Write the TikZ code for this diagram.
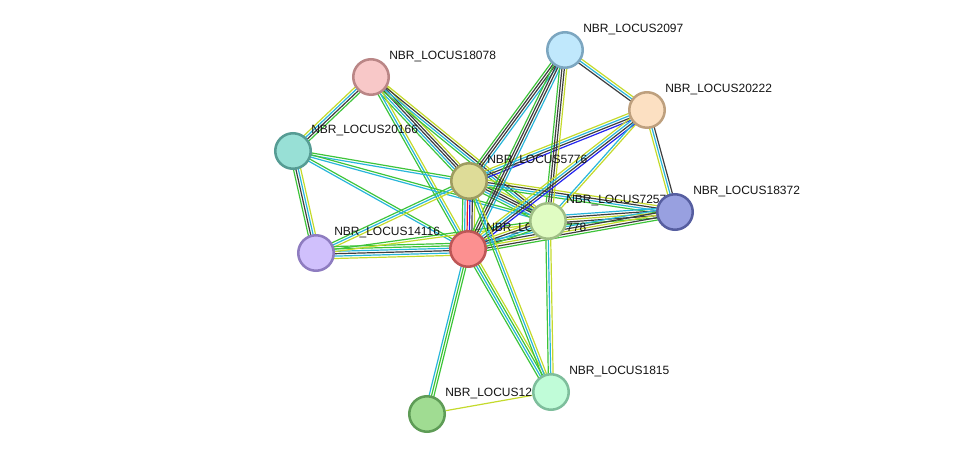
\documentclass[tikz,border=0pt]{standalone}
\usepackage{fontspec}
\setmainfont{Liberation Sans}
\usetikzlibrary{calc}
\pgfdeclarelayer{edgelayer}
\pgfdeclarelayer{labellayer}
\pgfsetlayers{edgelayer,labellayer,main}
\definecolor{sgr}{RGB}{62,196,58}
\definecolor{scy}{RGB}{40,182,218}
\definecolor{sbk}{RGB}{62,62,62}
\definecolor{syg}{RGB}{196,218,44}
\definecolor{sbl}{RGB}{36,36,238}
\definecolor{srd}{RGB}{236,30,30}
\newcommand\ebundle[4]{%
  \foreach \cc [count=\ii] in {#4} {%
    \pgfmathsetmacro\off{(\ii-(#3+1)/2)*1.8}%
    \draw[edge,draw=\cc] ($(#1)!\off pt!90:(#2)$) -- ($(#2)!\off pt!-90:(#1)$);
  }}
\begin{document}
\begin{tikzpicture}[x=0.75pt,y=-0.75pt,
  edge/.style={line width=0.9pt},
  prot/.style={circle, minimum size=26.6pt, inner sep=0pt, line width=1.9pt},
  lab/.style={anchor=base west, inner sep=0pt, text=black!92, font=\fontsize{9}{10}\selectfont}]
\useasboundingbox (0,0) rectangle (975,459);

% nodes
\node[prot, fill={rgb,255:red,248;green,200;blue,200}, draw={rgb,255:red,186;green,134;blue,134}] (p18078) at (371,77) {};
\node[prot, fill={rgb,255:red,192;green,232;blue,252}, draw={rgb,255:red,124;green,166;blue,192}] (p2097) at (565,50) {};
\node[prot, fill={rgb,255:red,252;green,224;blue,194}, draw={rgb,255:red,190;green,160;blue,126}] (p20222) at (647,110) {};
\node[prot, fill={rgb,255:red,152;green,224;blue,214}, draw={rgb,255:red,86;green,156;blue,148}] (p20166) at (293,151) {};
\node[prot, fill={rgb,255:red,222;green,220;blue,152}, draw={rgb,255:red,158;green,156;blue,96}] (p5776) at (469,181) {};
\node[prot, fill={rgb,255:red,152;green,160;blue,224}, draw={rgb,255:red,86;green,94;blue,160}] (p18372) at (675,212) {};
\node[prot, fill={rgb,255:red,208;green,192;blue,252}, draw={rgb,255:red,142;green,124;blue,192}] (p14116) at (316,253) {};
\node[prot, fill={rgb,255:red,252;green,144;blue,144}, draw={rgb,255:red,190;green,86;blue,86}] (p7778) at (468,249) {};
\node[prot, fill={rgb,255:red,224;green,252;blue,194}, draw={rgb,255:red,160;green,190;blue,134}] (p7257) at (548,221) {};
\node[prot, fill={rgb,255:red,192;green,252;blue,216}, draw={rgb,255:red,126;green,190;blue,156}] (p1815) at (551,392) {};
\node[prot, fill={rgb,255:red,160;green,220;blue,146}, draw={rgb,255:red,94;green,156;blue,86}] (p12) at (427,414) {};

% labels
\begin{pgfonlayer}{labellayer}
\node[lab] (l18078) at (389,60) {NBR\_LOCUS18078};
\node[lab] (l2097) at (583,33) {NBR\_LOCUS2097};
\node[lab] (l20222) at (665,93) {NBR\_LOCUS20222};
\node[lab] (l20166) at (311,134) {NBR\_LOCUS20166};
\node[lab] (l5776) at (487,164) {NBR\_LOCUS5776};
\node[lab] (l18372) at (693,195) {NBR\_LOCUS18372};
\node[lab] (l14116) at (334,236) {NBR\_LOCUS14116};
\node[lab] (l7778) at (486,232) {NBR\_LOCUS7778};
\node[lab] (l7257) at (566,204) {NBR\_LOCUS7257};
\node[lab] (l1815) at (569,375) {NBR\_LOCUS1815};
\node[lab] (l12) at (445,397) {NBR\_LOCUS12};
\end{pgfonlayer}

% edges
\begin{pgfonlayer}{edgelayer}
\ebundle{p18078}{p20166}{4}{syg,scy,sbk,sgr}
\ebundle{p18078}{p5776}{5}{sgr,scy,sbk,sbk,syg}
\ebundle{p18078}{p7778}{3}{sgr,scy,syg}
\ebundle{p18078}{p7257}{4}{sgr,scy,sbk,syg}
\ebundle{p20166}{p5776}{2}{scy,sgr}
\ebundle{p20166}{p7778}{2}{scy,sgr}
\ebundle{p20166}{p7257}{2}{scy,sgr}
\ebundle{p20166}{p14116}{4}{sgr,sbk,scy,syg}
\ebundle{p14116}{p5776}{3}{syg,scy,sgr}
\ebundle{p14116}{p7778}{6}{syg,scy,sbk,scy,sgr,sgr}
\ebundle{p14116}{p7257}{2}{syg,sgr}
\ebundle{p5776}{p7778}{6}{sgr,scy,srd,sbl,sbk,syg}
\ebundle{p5776}{p7257}{5}{sgr,scy,sbk,sbk,syg}
\ebundle{p5776}{p18372}{4}{sgr,scy,sbk,syg}
\ebundle{p5776}{p2097}{4}{scy,sbk,sbk,sgr}
\ebundle{p5776}{p20222}{4}{sbl,sbk,scy,syg}
\ebundle{p7778}{p2097}{4}{scy,sbk,sbk,sgr}
\ebundle{p7257}{p2097}{4}{syg,sbk,sbk,sgr}
\ebundle{p7778}{p20222}{4}{sbl,sbk,scy,syg}
\ebundle{p7257}{p20222}{2}{syg,scy}
\ebundle{p2097}{p20222}{3}{sbk,scy,syg}
\ebundle{p20222}{p18372}{3}{syg,scy,sbk}
\ebundle{p7257}{p18372}{5}{sgr,sbk,syg,sbk,scy}
\ebundle{p7778}{p18372}{5}{sgr,sbk,syg,sbk,scy}
\ebundle{p7778}{p7257}{4}{sgr,scy,sbk,syg}
\ebundle{p7778}{p1815}{4}{sgr,scy,sgr,syg}
\ebundle{p7778}{p12}{3}{scy,sgr,sgr}
\ebundle{p7257}{p1815}{3}{sgr,scy,syg}
\ebundle{p5776}{p1815}{3}{sgr,scy,syg}
\draw[edge,draw=syg] (p12) -- (p1815);
\end{pgfonlayer}
\end{tikzpicture}
\end{document}
